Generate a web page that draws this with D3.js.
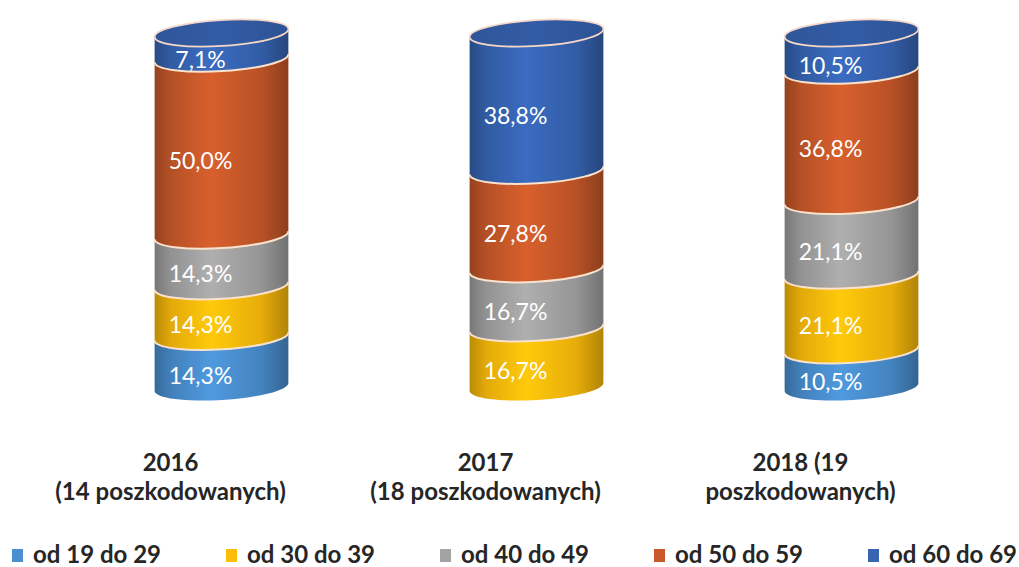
<!DOCTYPE html>
<html>
<head>
<meta charset="utf-8">
<script src="https://cdn.jsdelivr.net/npm/d3@7"></script>
<style>
  html, body { margin: 0; padding: 0; background: #fff; }
  svg { display: block; }
</style>
</head>
<body>
<div id="chart"></div>
<script>
// categories (one entry per cylinder, split in lines as shown)
const categories = [
  ['2016', '(14 poszkodowanych)'],
  ['2017', '(18 poszkodowanych)'],
  ['2018 (19', 'poszkodowanych)'],
];
const seriesNames = ['od 19 do 29', 'od 30 do 39', 'od 40 do 49', 'od 50 do 59', 'od 60 do 69'];
const seriesColors = ['#4a8fd0', '#fcbc0a', '#a3a3a3', '#c9592a', '#3765b4'];

// percentages, one array per age group, in category order
const od19do29 = [14.3, 0, 10.5];
const od30do39 = [14.3, 16.7, 21.1];
const od40do49 = [14.3, 16.7, 21.1];
const od50do59 = [50.0, 27.8, 36.8];
const od60do69 = [7.1, 38.8, 10.5];

const width = 1019;
const height = 567;
const rx = 67;
const ry = 13;
const tilt = -3.5; // degrees, the ellipses lean a little

const seriesValues = [od19do29, od30do39, od40do49, od50do59, od60do69];
const rows = categories.map((c, i) => {
  const row = { key: i };
  seriesNames.forEach((s, j) => { row[s] = seriesValues[j][i]; });
  return row;
});

const stack = d3.stack().keys(seriesNames);
const layers = stack(rows);

const x = d3.scaleBand()
  .domain(d3.range(categories.length))
  .range([64, 1009])
  .paddingInner(0)
  .paddingOuter(0);

const y = d3.scaleLinear().domain([0, 100]).range([387, 33]);

const fmt = (v) => d3.format('.1f')(v).replace('.', ',') + '%';

const svg = d3.select('#chart')
  .append('svg')
  .attr('width', width)
  .attr('height', height);

// horizontal shading for the cylinder look
const defs = svg.append('defs');
seriesColors.forEach((col, i) => {
  const g = defs.append('linearGradient')
    .attr('id', `grad${i}`)
    .attr('x1', '0%').attr('x2', '100%')
    .attr('y1', '0%').attr('y2', '0%');
  const base = d3.color(col);
  g.append('stop').attr('offset', '0%').attr('stop-color', base.darker(0.85));
  g.append('stop').attr('offset', '12%').attr('stop-color', base.darker(0.3));
  g.append('stop').attr('offset', '42%').attr('stop-color', base.brighter(0.2));
  g.append('stop').attr('offset', '80%').attr('stop-color', base.darker(0.25));
  g.append('stop').attr('offset', '100%').attr('stop-color', base.darker(1));

  const c = defs.append('linearGradient')
    .attr('id', `cap${i}`)
    .attr('x1', '0%').attr('x2', '100%')
    .attr('y1', '0%').attr('y2', '0%');
  c.append('stop').attr('offset', '0%').attr('stop-color', base.darker(0.45));
  c.append('stop').attr('offset', '50%').attr('stop-color', base.darker(0.25));
  c.append('stop').attr('offset', '100%').attr('stop-color', base.darker(0.55));
});

const t = tilt * Math.PI / 180;
const ex = rx * Math.cos(t);
const ey = rx * Math.sin(t);

function bodyPath(cx, yTop, yBot) {
  return `M${cx - ex},${yBot - ey}`
    + `A${rx},${ry} ${tilt} 0 0 ${cx + ex},${yBot + ey}`
    + `L${cx + ex},${yTop + ey}`
    + `A${rx},${ry} ${tilt} 0 1 ${cx - ex},${yTop - ey}Z`;
}

function frontArc(cx, yc) {
  return `M${cx - ex},${yc - ey}A${rx},${ry} ${tilt} 0 0 ${cx + ex},${yc + ey}`;
}

const cyl = svg.append('g').attr('class', 'cylinders');

categories.forEach((cat, i) => {
  const cx = x(i) + x.bandwidth() / 2;
  const g = cyl.append('g');
  let topIdx = -1;
  layers.forEach((layer, j) => {
    const d = layer[i];
    if (d[1] - d[0] <= 0) return;
    topIdx = j;
    g.append('path')
      .attr('d', bodyPath(cx, y(d[1]), y(d[0])))
      .attr('fill', `url(#grad${j})`);
  });
  // separator lines between segments
  layers.forEach((layer, j) => {
    const d = layer[i];
    if (d[1] - d[0] <= 0 || j === topIdx) return;
    g.append('path')
      .attr('d', frontArc(cx, y(d[1])))
      .attr('fill', 'none')
      .attr('stroke', '#fbe2cc')
      .attr('stroke-width', 2);
  });
  // top cap
  g.append('ellipse')
    .attr('cx', cx)
    .attr('cy', y(100))
    .attr('rx', rx)
    .attr('ry', ry)
    .attr('transform', `rotate(${tilt},${cx},${y(100)})`)
    .attr('fill', `url(#cap${topIdx})`)
    .attr('stroke', '#f6d7c8')
    .attr('stroke-width', 1.8);

  // value labels
  layers.forEach((layer, j) => {
    const d = layer[i];
    if (d[1] - d[0] <= 0) return;
    g.append('text')
      .attr('x', cx - 21)
      .attr('y', (y(d[0]) + y(d[1])) / 2 + ry)
      .attr('text-anchor', 'middle')
      .attr('dominant-baseline', 'central')
      .attr('fill', '#fff')
      .style('font-family', 'Lato, "Open Sans", sans-serif')
      .style('font-size', '23px')
      .text(fmt(d[1] - d[0]));
  });

  // category label (sits a bit left of its cylinder, as in the source)
  const lx0 = cx - 51;
  const lab = svg.append('text')
    .attr('x', lx0)
    .attr('y', 471)
    .attr('text-anchor', 'middle')
    .attr('fill', '#262626')
    .style('font-family', 'Lato, "Open Sans", sans-serif')
    .style('font-weight', 'bold')
    .style('font-size', '24px');
  cat.forEach((line, k) => {
    lab.append('tspan')
      .attr('x', lx0)
      .attr('dy', k === 0 ? 0 : 29)
      .text(line);
  });
});

// legend
const legend = svg.append('g').attr('class', 'legend');
const lx = d3.scalePoint()
  .domain(seriesNames)
  .range([12, 868]);

seriesNames.forEach((name, j) => {
  const item = legend.append('g')
    .attr('transform', `translate(${lx(name)},549)`);
  item.append('rect')
    .attr('width', 11)
    .attr('height', 13)
    .attr('fill', seriesColors[j]);
  item.append('text')
    .attr('x', 21)
    .attr('y', 14)
    .attr('fill', '#262626')
    .style('font-family', 'Lato, "Open Sans", sans-serif')
    .style('font-weight', 'bold')
    .style('font-size', '24px')
    .text(name);
});
</script>
</body>
</html>
